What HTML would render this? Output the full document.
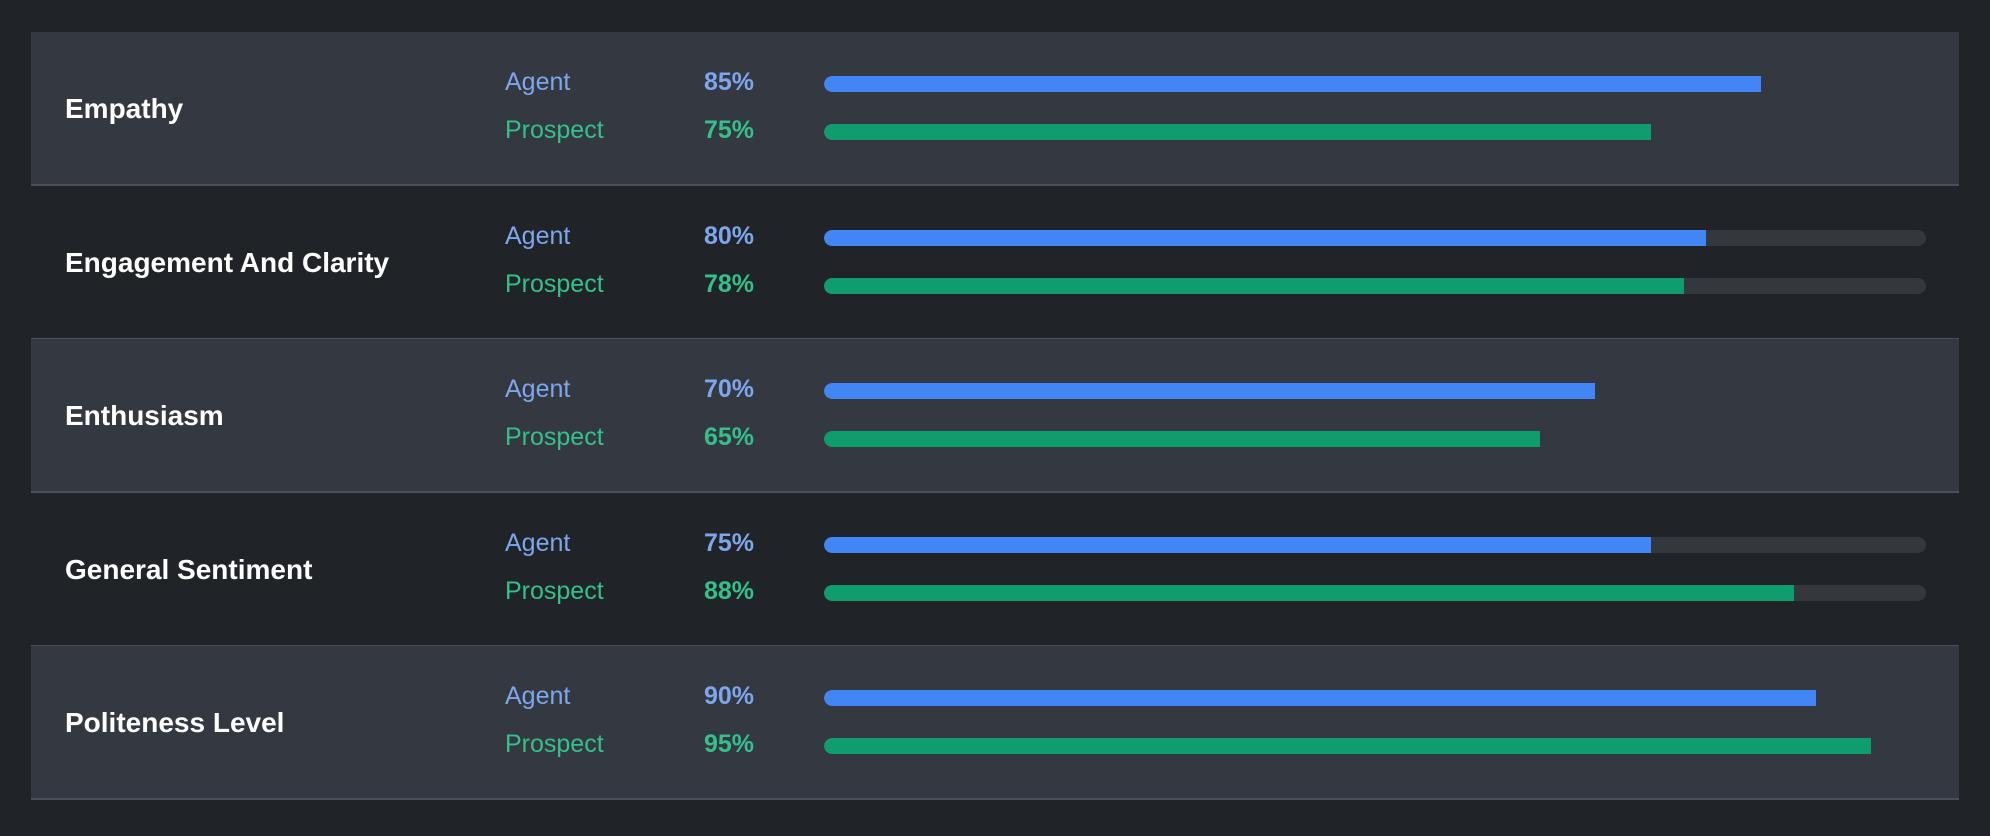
<!DOCTYPE html>
<html><head><meta charset="utf-8"><style>
html,body{margin:0;padding:0;background:#202428;width:1990px;height:836px;overflow:hidden;font-family:"Liberation Sans",sans-serif}
#chart{position:absolute;left:0;top:0;width:1990px;height:836px}
.row{position:absolute;left:31px;width:1928px;height:152px;border-bottom:2px solid #4a505a;box-sizing:content-box}
.row.alt{background:#343841}
.title{position:absolute;left:34px;font-size:28px;font-weight:bold;color:#fff;line-height:30px}
.lbl{position:absolute;left:474px;font-size:25px;line-height:28px}
.pct{position:absolute;left:673px;font-size:25px;font-weight:bold;line-height:28px}
.agent{color:#7ea6ec}.prospect{color:#34c08a}
.track{position:absolute;left:793px;width:1102px;height:16px;border-radius:8px;background:#33373e;overflow:hidden}
.bar{position:absolute;left:0;top:0;height:16px;border-radius:8px 0 0 8px}
</style></head><body>
<div id="chart"></div>
<script>
const categories=["Empathy","Engagement And Clarity","Enthusiasm","General Sentiment","Politeness Level"];
const agentValues=[85,80,70,75,90];
const prospectValues=[75,78,65,88,95];
const seriesNames=["Agent","Prospect"];
const chart=document.getElementById('chart');
const trackW=1102;
function xScale(v){return v/100*trackW;}
categories.forEach((c,i)=>{
  const row=document.createElement('div');
  row.className='row'+(i%2===0?' alt':'');
  row.style.top=(32+i*153.6)+'px';
  
  
  const t=document.createElement('div');
  t.className='title';t.textContent=c;t.style.top='62px';
  
  
  row.appendChild(t);
  [agentValues[i],prospectValues[i]].forEach((v,s)=>{
    const cls=s===0?'agent':'prospect';
    const cy=s===0?52:100;
    const l=document.createElement('div');
    l.className='lbl '+cls;l.textContent=seriesNames[s];l.style.top=(cy-16)+'px';
    
    
    row.appendChild(l);
    const p=document.createElement('div');
    p.className='pct '+cls;p.textContent=v+'%';p.style.top=(cy-16)+'px';
    
    
    row.appendChild(p);
    const tr=document.createElement('div');
    tr.className='track';tr.style.top=(cy-8)+'px';
    if(i%2===0)tr.style.background='#343841';
    
    
    const b=document.createElement('div');
    b.className='bar';b.style.width=xScale(v)+'px';
    b.style.background=s===0?'#4285f4':'#0f9d6e';
    
    
    tr.appendChild(b);
    row.appendChild(tr);
  });
  chart.appendChild(row);
});
</script>
</body></html>
